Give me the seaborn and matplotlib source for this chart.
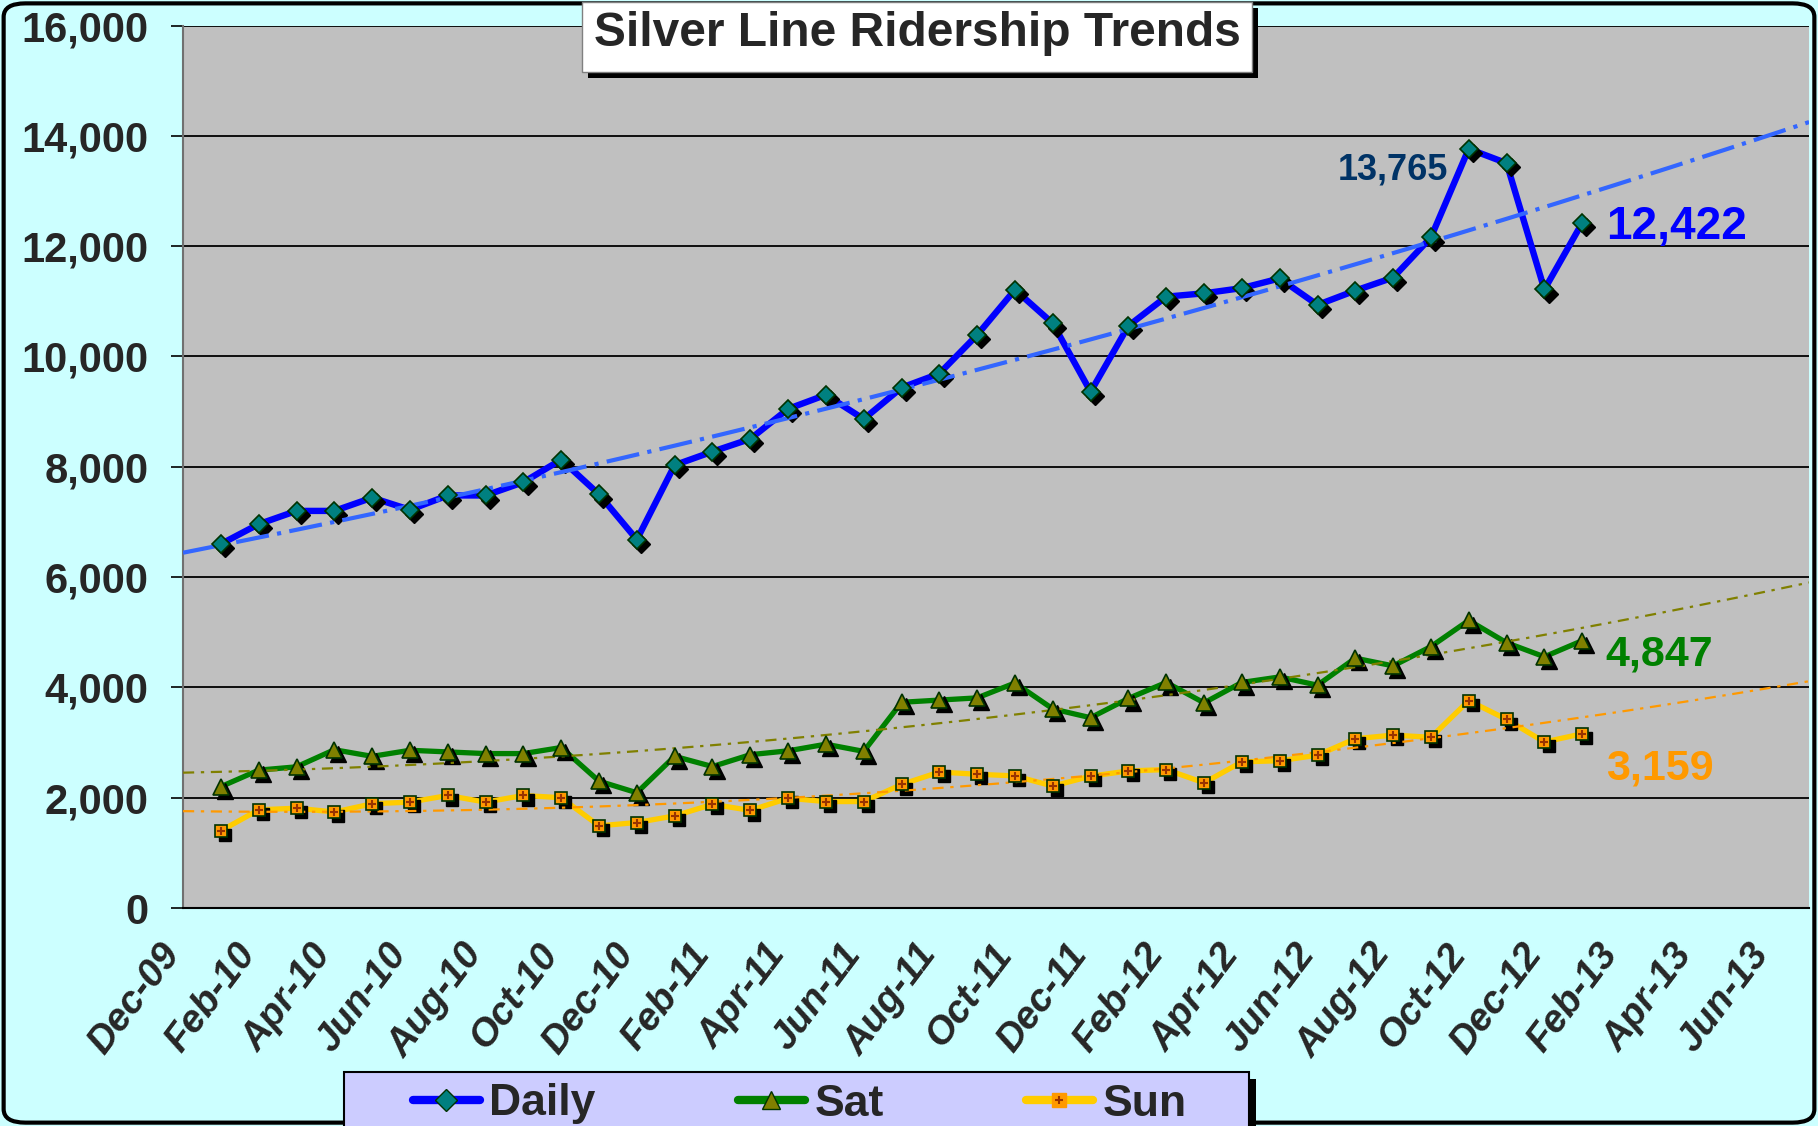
import matplotlib
matplotlib.use("Agg")
import matplotlib.pyplot as plt
import matplotlib.transforms as mtransforms
from matplotlib.patches import Rectangle, FancyBboxPatch
from matplotlib.lines import Line2D
import seaborn as sns
import numpy as np
import pandas as pd

# monthly averages, Jan-10 .. Jan-13
months = ["Jan-10", "Feb-10", "Mar-10", "Apr-10", "May-10", "Jun-10", "Jul-10", "Aug-10",
          "Sep-10", "Oct-10", "Nov-10", "Dec-10", "Jan-11", "Feb-11", "Mar-11", "Apr-11",
          "May-11", "Jun-11", "Jul-11", "Aug-11", "Sep-11", "Oct-11", "Nov-11", "Dec-11",
          "Jan-12", "Feb-12", "Mar-12", "Apr-12", "May-12", "Jun-12", "Jul-12", "Aug-12",
          "Sep-12", "Oct-12", "Nov-12", "Dec-12", "Jan-13"]
daily = [6600, 6960, 7200, 7200, 7440, 7220, 7480, 7480, 7720, 8130, 7500, 6680,
         8030, 8275, 8505, 9050, 9305, 8865, 9435, 9690, 10390, 11210, 10600, 9360,
         10555, 11085, 11145, 11240, 11415, 10935, 11195, 11430, 12160, 13765, 13505, 11215,
         12422]
sat = [2200, 2500, 2560, 2870, 2750, 2860, 2830, 2800, 2800, 2910, 2300, 2090,
       2750, 2565, 2780, 2850, 2970, 2840, 3730, 3770, 3810, 4080, 3610, 3450,
       3800, 4090, 3720, 4090, 4190, 4040, 4530, 4390, 4740, 5215, 4810, 4555,
       4847]
sun = [1400, 1780, 1810, 1740, 1890, 1920, 2040, 1920, 2040, 2000, 1490, 1550,
       1670, 1880, 1770, 1990, 1930, 1930, 2240, 2465, 2425, 2395, 2210, 2390,
       2485, 2510, 2270, 2650, 2670, 2770, 3070, 3135, 3095, 3760, 3420, 3010,
       3159]
tick_labels = ["Dec-09", "Feb-10", "Apr-10", "Jun-10", "Aug-10", "Oct-10", "Dec-10",
               "Feb-11", "Apr-11", "Jun-11", "Aug-11", "Oct-11", "Dec-11", "Feb-12",
               "Apr-12", "Jun-12", "Aug-12", "Oct-12", "Dec-12", "Feb-13", "Apr-13", "Jun-13"]

df = pd.DataFrame({"month": months, "Daily": daily, "Sat": sat, "Sun": sun})
df["x"] = np.arange(1, len(months) + 1)   # Dec-09 = 0

sns.set_style("white")
plt.rcParams["font.family"] = ["Liberation Sans", "DejaVu Sans"]

fig = plt.figure(figsize=(18.18, 11.26), dpi=100)
fig.patch.set_facecolor("#CCFFFF")
ax = fig.add_axes([0.1007, 0.1936, 0.8944, 0.7837])
ax.set_facecolor("#C0C0C0")

xmax = 43
ax.set_xlim(0, xmax)
ax.set_ylim(0, 16000)

# shadow offset for markers
shadow = ax.transData + mtransforms.ScaledTranslation(3 / 72, -3 / 72, fig.dpi_scale_trans)

series = [
    ("Daily", "#0000FF", 4.6, "D", 9, "#008080", "#3366FF", 3.0, (0, (8, 2, 1, 2))),
    ("Sat", "#008000", 3.8, "^", 11, "#808000", "#808000", 1.6, (0, (5, 3, 1.5, 3))),
    ("Sun", "#FFCC00", 3.8, "s", 8.5, "#FF9900", "#FF9900", 1.6, (0, (5, 3, 1.5, 3))),
]

xs = np.linspace(0, xmax, 200)
for name, lc, lw, mk, ms, mfc, tc, tlw, tls in series:
    sns.lineplot(data=df, x="x", y=name, ax=ax, color=lc, lw=lw, zorder=3)
    ax.plot(df["x"], df[name], ls="none", marker=mk, ms=ms, mfc="black", mec="black",
            transform=shadow, zorder=4)
    ax.plot(df["x"], df[name], ls="none", marker=mk, ms=ms, mfc=mfc, mec="#003300",
            mew=1.2, zorder=5)
    if name == "Sun":
        ax.plot(df["x"], df[name], ls="none", marker="+", ms=6, mec="#993300", mew=1.5, zorder=6)
    # polynomial (2nd order) trend extended across the axis
    coef = np.polyfit(df["x"], df[name], 2)
    ax.plot(xs, np.polyval(coef, xs), color=tc, lw=tlw, ls=tls, zorder=4.5)

# axes styling
ax.set_yticks(np.arange(0, 16001, 2000))
ax.set_yticklabels([f"{v:,}" for v in range(0, 16001, 2000)], fontsize=30, fontweight="bold")
ax.set_xticks(np.arange(0, xmax, 2))
ax.set_xticks(np.arange(0, xmax + 1), minor=True)
ax.set_xticklabels(tick_labels, fontsize=28, fontweight="bold", fontstyle="italic",
                   rotation=53, ha="right", va="center", rotation_mode="anchor")
ax.tick_params(axis="x", which="major", direction="inout", length=30, width=1.2, pad=14,
               color="black")
ax.tick_params(axis="x", which="minor", direction="out", length=7, width=1.2, color="black")
ax.tick_params(axis="y", direction="out", length=9, width=1.2, pad=16, color="black", left=True)
shift = mtransforms.ScaledTranslation(-7 / 72, 0, fig.dpi_scale_trans)
for lbl in ax.get_xticklabels():
    lbl.set_transform(lbl.get_transform() + shift)
ax.set_xlabel("")
ax.set_ylabel("")
ax.grid(axis="y", color="black", lw=1.3)
ax.grid(axis="x", visible=False)
for s in ["top", "right"]:
    ax.spines[s].set_visible(False)
ax.spines["left"].set_color("#707070")
ax.spines["left"].set_linewidth(1.5)
ax.spines["bottom"].set_color("black")
ax.spines["bottom"].set_linewidth(1.5)

# value labels
ax.annotate("13,765", (df["x"].iloc[33], daily[33]), xytext=(-15, -15), textcoords="offset points",
            ha="right", va="center", fontsize=26, fontweight="bold", color="#003366")
ax.annotate(f"{daily[-1]:,}", (df["x"].iloc[-1], daily[-1]), xytext=(17, -3), textcoords="offset points",
            ha="left", va="center", fontsize=33, fontweight="bold", color="#0000FF")
ax.annotate(f"{sat[-1]:,}", (df["x"].iloc[-1], sat[-1]), xytext=(17, -10), textcoords="offset points",
            ha="left", va="center", fontsize=31, fontweight="bold", color="#008000")
ax.annotate(f"{sun[-1]:,}", (df["x"].iloc[-1], sun[-1]), xytext=(17, -25), textcoords="offset points",
            ha="left", va="center", fontsize=31, fontweight="bold", color="#FF9900")

W, H = 1818, 1126

def fig_rect(x0, y0, x1, y1, **kw):
    # pixel box (top-left origin) -> figure fraction rectangle
    fig.patches.append(Rectangle((x0 / W, 1 - y1 / H), (x1 - x0) / W, (y1 - y0) / H,
                                 transform=fig.transFigure, figure=fig, **kw))

# outer rounded border
fig.patches.append(FancyBboxPatch((0.002, 0.003), 0.996, 0.994,
                                  boxstyle="round,pad=0,rounding_size=0.012",
                                  transform=fig.transFigure, figure=fig,
                                  fill=False, ec="black", lw=3, zorder=10))

# title box with shadow
fig_rect(588, 8, 1258, 78, fc="black", ec="none", zorder=11)
fig_rect(582, 2, 1252, 72, fc="white", ec="#808080", lw=1, zorder=12)
fig.text(917 / W, 1 - 33 / H, "Silver Line Ridership Trends", ha="center", va="center",
         fontsize=34.5, fontweight="bold", zorder=13)

# legend box with shadow
fig_rect(351, 1079, 1256, 1140, fc="black", ec="none", zorder=11)
fig_rect(344, 1072, 1249, 1135, fc="#CCCCFF", ec="black", lw=1.5, zorder=12)

h_daily = Line2D([], [], color="#0000FF", lw=6, marker="D", ms=11, mfc="#008080", mec="#003300")
h_sat = Line2D([], [], color="#008000", lw=6, marker="^", ms=13, mfc="#808000", mec="#003300")
h_sun = (Line2D([], [], color="#FFCC00", lw=6, marker="s", ms=10, mfc="#FF9900", mec="#FF9900"),
         Line2D([], [], ls="none", marker="+", ms=6, mec="#993300", mew=1.5))
leg = fig.legend([h_daily, h_sat, h_sun], ["Daily", "Sat", "Sun"], ncol=3,
                 loc="center left", bbox_to_anchor=(413 / W, 1 - 1104 / H),
                 frameon=False, borderpad=0, borderaxespad=0, handlelength=1.5,
                 handletextpad=0.22, columnspacing=3.2, numpoints=1,
                 prop={"size": 32, "weight": "bold"})
leg.set_zorder(14)

fig.savefig("out.png", dpi=100, facecolor=fig.get_facecolor())
